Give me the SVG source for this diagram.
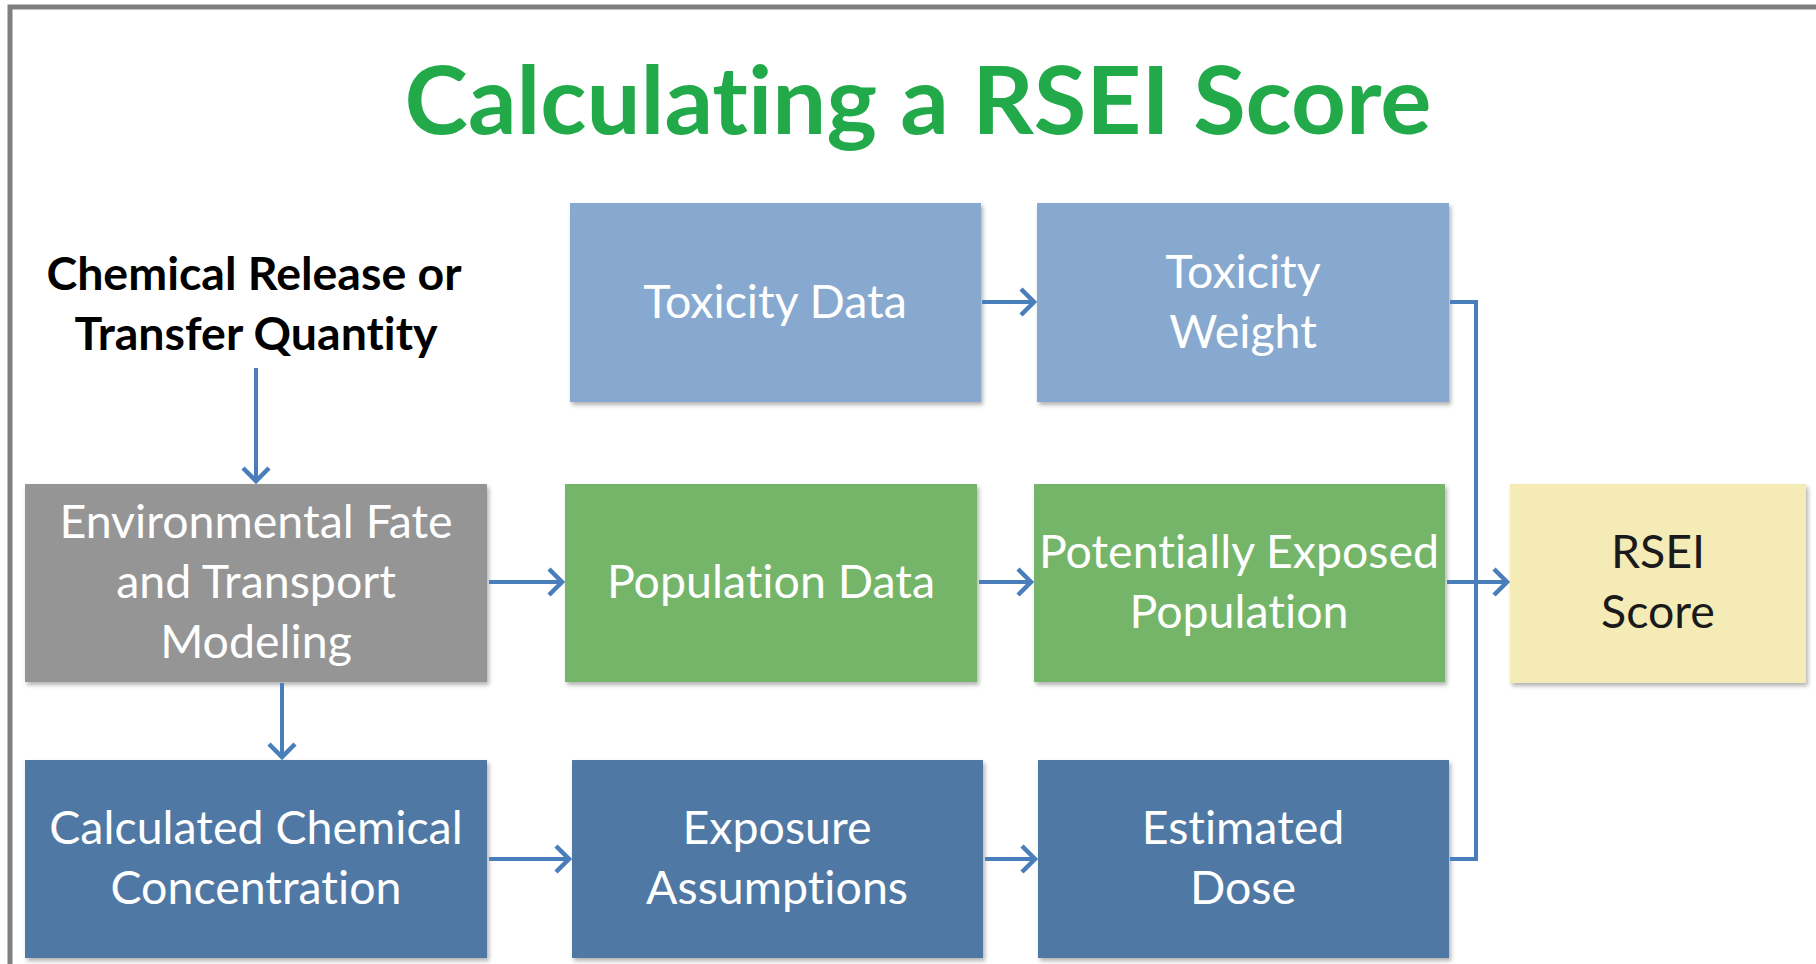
<svg xmlns="http://www.w3.org/2000/svg" width="1816" height="964" viewBox="0 0 1816 964">
<style>
  text { font-variant-ligatures: none; font-feature-settings: "liga" 0; }
  .lbl { font-family: Lato, "Open Sans", "Liberation Sans", sans-serif; font-size: 46.5px; fill: #ffffff; text-anchor: middle; }
  .dark { fill: #1a1a1a; }
  .title { font-family: Lato, "Open Sans", "Liberation Sans", sans-serif; font-weight: bold; font-size: 94px; fill: #22aa4a; text-anchor: middle; }
  .src { font-family: Lato, "Open Sans", "Liberation Sans", sans-serif; font-weight: bold; font-size: 46.5px; fill: #000000; text-anchor: middle; }
  .conn { fill: none; stroke: #4a7ebb; stroke-width: 4; }
  .lightblue { fill: #87a9cf; }
  .green { fill: #74b56a; }
  .gray { fill: #959595; }
  .darkblue { fill: #4f78a4; }
  .yellow { fill: #f4ebb6; }
</style>
<defs>
  <filter id="sh" x="-5%" y="-5%" width="110%" height="115%">
    <feDropShadow dx="2" dy="3" stdDeviation="2" flood-color="#000000" flood-opacity="0.3"/>
  </filter>
  <marker id="arr" markerUnits="userSpaceOnUse" markerWidth="30" markerHeight="30" refX="17" refY="13" orient="auto" viewBox="0 0 30 30" overflow="visible">
    <path d="M4,0 L17,13 L4,26" fill="none" stroke="#4a7ebb" stroke-width="4.5" stroke-linejoin="miter"/>
  </marker>
</defs>
<rect width="1816" height="964" fill="#ffffff"/>
<path d="M10,964 V7 H1816" fill="none" stroke="#7f7f7f" stroke-width="5"/>

<text class="title" x="918" y="134" textLength="1027" lengthAdjust="spacingAndGlyphs">Calculating a RSEI Score</text>

<g id="source">
  <text class="src" x="254" y="290">Chemical Release or</text>
  <text class="src" x="256" y="350">Transfer Quantity</text>
</g>

<g id="toxicity-data">
  <rect class="lightblue" x="570" y="203" width="411" height="199" filter="url(#sh)"/>
  <text class="lbl" x="775" y="318">Toxicity Data</text>
</g>
<g id="toxicity-weight">
  <rect class="lightblue" x="1037" y="203" width="412" height="199" filter="url(#sh)"/>
  <text class="lbl" x="1243" y="288">Toxicity</text>
  <text class="lbl" x="1243" y="348">Weight</text>
</g>

<g id="env-fate">
  <rect class="gray" x="25" y="484" width="462" height="198" filter="url(#sh)"/>
  <text class="lbl" x="256" y="538">Environmental Fate</text>
  <text class="lbl" x="256" y="598">and Transport</text>
  <text class="lbl" x="256" y="658">Modeling</text>
</g>
<g id="population-data">
  <rect class="green" x="565" y="484" width="412" height="198" filter="url(#sh)"/>
  <text class="lbl" x="771" y="598">Population Data</text>
</g>
<g id="exposed-population">
  <rect class="green" x="1034" y="484" width="411" height="198" filter="url(#sh)"/>
  <text class="lbl" x="1239" y="568">Potentially Exposed</text>
  <text class="lbl" x="1239" y="628">Population</text>
</g>
<g id="rsei-score">
  <rect class="yellow" x="1510" y="484" width="296" height="199" filter="url(#sh)"/>
  <text class="lbl dark" x="1658" y="568">RSEI</text>
  <text class="lbl dark" x="1658" y="628">Score</text>
</g>

<g id="chemical-concentration">
  <rect class="darkblue" x="25" y="760" width="462" height="198" filter="url(#sh)"/>
  <text class="lbl" x="256" y="844">Calculated Chemical</text>
  <text class="lbl" x="256" y="904">Concentration</text>
</g>
<g id="exposure-assumptions">
  <rect class="darkblue" x="572" y="760" width="411" height="198" filter="url(#sh)"/>
  <text class="lbl" x="777" y="844">Exposure</text>
  <text class="lbl" x="777" y="904">Assumptions</text>
</g>
<g id="estimated-dose">
  <rect class="darkblue" x="1038" y="760" width="411" height="198" filter="url(#sh)"/>
  <text class="lbl" x="1243" y="844">Estimated</text>
  <text class="lbl" x="1243" y="904">Dose</text>
</g>

<g id="connectors">
  <path class="conn" d="M256,368 V481" marker-end="url(#arr)"/>
  <path class="conn" d="M282,683 V757" marker-end="url(#arr)"/>
  <path class="conn" d="M489,582 H562" marker-end="url(#arr)"/>
  <path class="conn" d="M979,582 H1031" marker-end="url(#arr)"/>
  <path class="conn" d="M982,302 H1034" marker-end="url(#arr)"/>
  <path class="conn" d="M489,859 H569" marker-end="url(#arr)"/>
  <path class="conn" d="M985,859 H1035" marker-end="url(#arr)"/>
  <path class="conn" d="M1450,302 H1476 V859 H1450"/>
  <path class="conn" d="M1447,582 H1507" marker-end="url(#arr)"/>
</g>
</svg>
